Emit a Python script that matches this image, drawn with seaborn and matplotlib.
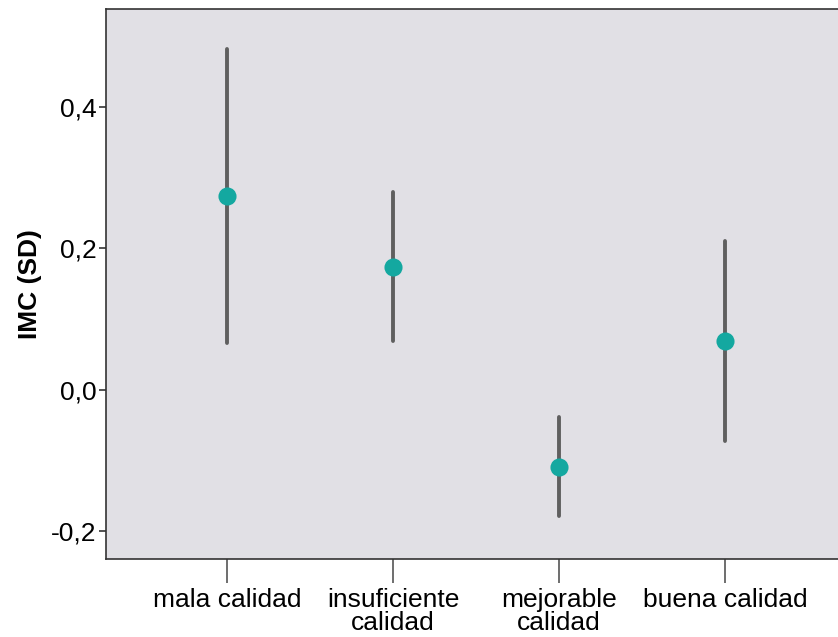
import pandas as pd
import matplotlib
matplotlib.use("Agg")
import matplotlib.pyplot as plt
import seaborn as sns
from matplotlib.ticker import FuncFormatter

# categories and values (mean, lower, upper)
categories = ["mala calidad", "insuficiente\ncalidad", "mejorable\ncalidad", "buena calidad"]
means = [0.274, 0.174, -0.109, 0.069]
lower = [0.066, 0.069, -0.178, -0.072]
upper = [0.482, 0.280, -0.038, 0.210]

# long table: the median is the point, min/max the bar ends
rows = []
for c, m, lo, hi in zip(categories, means, lower, upper):
    for v in (lo, m, hi):
        rows.append({"grupo": c, "imc": v})
df = pd.DataFrame(rows)

sns.set_style("white")
plt.rcParams["font.family"] = ["Liberation Sans", "DejaVu Sans"]

fig = plt.figure(figsize=(8.38, 6.37), dpi=100)
ax = fig.add_axes([0.1265, 0.1224, 0.8735, 0.8635])
ax.set_facecolor("#e1e0e5")

sns.pointplot(data=df, x="grupo", y="imc", order=categories,
              estimator="median", errorbar=lambda x: (x.min(), x.max()),
              linestyle="none", color="#14a8a0", markersize=11,
              err_kws={"color": "#5f5f5f", "linewidth": 2.8, "zorder": 1},
              ax=ax)
for ln in ax.lines:
    if ln.get_marker() not in (None, "None", ""):
        ln.set_zorder(3)

ax.set_xlim(-0.728, 3.68)
ax.set_ylim(-0.239, 0.538)
ax.set_yticks([-0.2, 0.0, 0.2, 0.4])
ax.yaxis.set_major_formatter(FuncFormatter(lambda v, p: f"{v:.1f}".replace(".", ",")))

ax.set_xlabel("")
ax.set_ylabel("IMC (SD)", fontsize=19, fontweight="bold", color="black", labelpad=6)
ax.tick_params(axis="y", which="major", length=5, width=1.2, color="#333333",
               labelsize=19, labelcolor="black", left=True, pad=2)
ax.tick_params(axis="x", which="major", length=17, width=1.2, color="#555555",
               labelsize=19, labelcolor="black", bottom=True, pad=4)
for lab in ax.get_xticklabels():
    lab.set_linespacing(0.95)

for side in ["left", "bottom", "top"]:
    ax.spines[side].set_color("#333333")
    ax.spines[side].set_linewidth(1.2)
ax.spines["right"].set_visible(False)

fig.savefig("out.png", dpi=100)
